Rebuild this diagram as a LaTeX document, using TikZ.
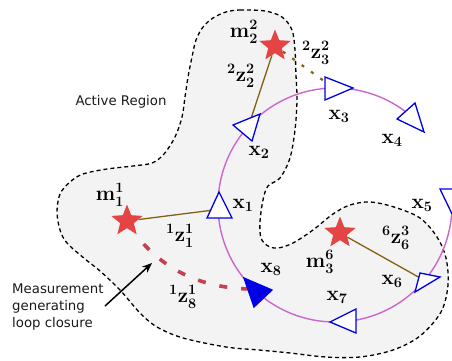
\documentclass[tikz,border=0pt]{standalone}
\usepackage{fontspec}
\setmainfont{Latin Modern Roman}[BoldFeatures={FakeBold=0.8}]
\newfontfamily\dejavu{DejaVu Sans}
\usetikzlibrary{shapes.geometric,arrows.meta}
\pgfdeclarelayer{back}
\pgfdeclarelayer{mid}
\pgfsetlayers{back,mid,main}

\definecolor{regionfill}{RGB}{243,243,243}
\definecolor{trajcol}{RGB}{204,102,204}
\definecolor{landmark}{RGB}{228,68,68}
\definecolor{meascol}{RGB}{128,98,16}
\definecolor{loopcol}{RGB}{198,64,82}
\definecolor{posecol}{RGB}{0,0,230}

\begin{document}
\begin{tikzpicture}[x=1pt,y=-1pt,
  region/.style={fill=regionfill,draw=black,line width=1.3pt,dash pattern=on 4pt off 3pt},
  traj/.style={draw=trajcol,line width=1.4pt},
  meas/.style={draw=meascol,line width=1.3pt},
  measdot/.style={draw=meascol,line width=2.2pt,dash pattern=on 3pt off 8.5pt},
  loopmeas/.style={draw=loopcol,line width=3.6pt,dash pattern=on 8pt off 14pt,dash phase=8pt},
  posetri/.style={draw=posecol,fill=white,line width=1.3pt,line join=miter},
  posecur/.style={draw=posecol,fill=posecol,line width=1.3pt},
  landmarkstar/.style={star,star points=5,star point ratio=2.3,minimum size=33pt,
    inner sep=0pt,fill=landmark,draw=none},
  lbl/.style={font=\fontsize{20}{23}\selectfont\boldmath,inner sep=0pt},
  txt/.style={font=\dejavu\fontsize{13.3}{17}\selectfont,inner sep=0pt,text=black!90},
  notearrow/.style={-{Stealth[length=10pt,width=8pt]},line width=1.5pt}]

\clip (0,0) rectangle (452,361);

% active region
\begin{pgfonlayer}{back}
\draw[region] plot[smooth cycle,tension=0.55] coordinates {
  (226,12) (240,10) (265,11) (282,17) (292,30) (295,50) (296,75) (297,100)
  (295,130) (290,158) (280,178) (268,186) (263,200) (260,222) (261,238)
  (268,246) (278,248) (293,243) (313,230) (333,214) (350,205) (370,202)
  (394,207) (420,218) (437,237) (446,258) (448,285) (441,312) (420,336)
  (393,350) (360,357) (326,357) (290,353) (259,350) (226,347) (183,338)
  (157,327) (140,313) (120,290) (100,271) (85,259) (67,243) (60,230)
  (57,212) (60,194) (70,182) (83,174) (107,169) (133,166) (152,163)
  (164,154) (175,137) (182,117) (185,97) (188,77) (192,57) (196,40)
  (203,27) (213,18)};
\end{pgfonlayer}

% pose reference points
\coordinate (x1) at (219.3,209.3);
\coordinate (x2) at (248.3,126.7);
\coordinate (x3) at (334.3,88.3);
\coordinate (x6) at (425,280.7);
\coordinate (x8) at (250,289);
\coordinate (c) at (335,205);

% landmarks
\node[landmarkstar] (m1) at (127,221) {};
\node[landmarkstar] (m2) at (275,46) {};
\node[landmarkstar] (m3) at (340,233) {};

% trajectory and measurements
\begin{pgfonlayer}{mid}
\draw[traj] ([shift={(5:117)}]c) arc[start angle=5,end angle=308,radius=117];
\draw[meas] (m1) -- (x1);
\draw[meas] (m2) -- (x2);
\draw[measdot] (m2) -- (x3);
\draw[meas] (m3) -- (x6);
\draw[loopmeas] (m1.-58) .. controls (162,269) and (200,288) .. (x8);
\end{pgfonlayer}

% poses
\draw[posetri] (219,192) -- (207,218) -- (232,218) -- cycle;
\draw[posetri] (233,125) -- (260,114) -- (252,141) -- cycle;
\draw[posetri] (325,77) -- (325,100) -- (353,88) -- cycle;
\draw[posetri] (397,119) -- (415,103) -- (424,132) -- cycle;
\draw[posetri] (440,189) -- (466,189) -- (453,216) -- cycle;
\draw[posetri] (420,273) -- (440,277) -- (415,292) -- cycle;
\draw[posetri] (330,322) -- (356,309) -- (356,333) -- cycle;
\draw[posecur] (244,278) -- (272,290) -- (254,307) -- cycle;

% labels
\node[lbl] (lx1) at (243,205) {$\mathbf{x}_1$};
\node[lbl] (lx2) at (259,152) {$\mathbf{x}_2$};
\node[lbl] (lx3) at (339,116) {$\mathbf{x}_3$};
\node[lbl] (lx4) at (392,140) {$\mathbf{x}_4$};
\node[lbl] (lx5) at (422,205) {$\mathbf{x}_5$};
\node[lbl] (lx6) at (392,281) {$\mathbf{x}_6$};
\node[lbl] (lx7) at (337,297) {$\mathbf{x}_7$};
\node[lbl] (lx8) at (271,269) {$\mathbf{x}_8$};
\node[lbl] (lm1) at (110,195) {$\mathbf{m}_1^1$};
\node[lbl] (lm2) at (244,32) {$\mathbf{m}_2^2$};
\node[lbl] (lm3) at (320,262) {$\mathbf{m}_3^6$};
\node[lbl] (lz11) at (180,236) {${}^1\mathbf{z}_1^1$};
\node[lbl] (lz81) at (183,297) {${}^1\mathbf{z}_8^1$};
\node[lbl] (lz22) at (241,76) {${}^2\mathbf{z}_2^2$};
\node[lbl] (lz32) at (316,53) {${}^2\mathbf{z}_3^2$};
\node[lbl] (lz63) at (396,238) {${}^6\mathbf{z}_6^3$};

\node[txt] (active) at (121,102) {Active Region};
\node[txt,align=left,anchor=west] (note) at (12,307) {Measurement\\generating\\loop closure};
\coordinate (arrtail) at (105,306);
\coordinate (arrhead) at (152,263);
\draw[notearrow] (arrtail) -- (arrhead);
\end{tikzpicture}
\end{document}
